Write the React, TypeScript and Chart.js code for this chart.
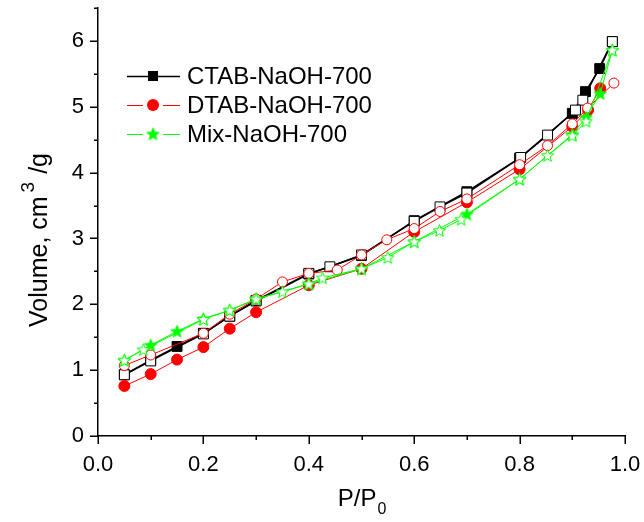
import React, { useEffect, useRef } from 'react';
import { Chart, registerables } from 'chart.js';
Chart.register(...registerables);

// ---- data ----
const ctabAdsP = [0.05, 0.1, 0.15, 0.2, 0.25, 0.3, 0.4, 0.5, 0.6, 0.7, 0.8, 0.9, 0.925, 0.952, 0.976];
const ctabAdsV = [0.93, 1.15, 1.36, 1.56, 1.82, 2.05, 2.46, 2.74, 3.27, 3.71, 4.22, 4.9, 5.23, 5.58, 5.99];
const ctabDesP = [0.976, 0.92, 0.906, 0.853, 0.802, 0.7, 0.649, 0.6, 0.5, 0.44, 0.4, 0.3, 0.25, 0.2, 0.1, 0.05];
const ctabDesV = [5.99, 5.1, 4.95, 4.57, 4.23, 3.69, 3.48, 3.26, 2.75, 2.57, 2.47, 2.06, 1.82, 1.55, 1.14, 0.93];

const dtabAdsP = [0.05, 0.1, 0.15, 0.2, 0.25, 0.3, 0.4, 0.5, 0.6, 0.7, 0.8, 0.9, 0.93, 0.953];
const dtabAdsV = [0.76, 0.94, 1.16, 1.35, 1.63, 1.88, 2.29, 2.54, 3.1, 3.55, 4.05, 4.7, 4.95, 5.28];
const dtabDesP = [0.979, 0.929, 0.9, 0.853, 0.8, 0.7, 0.649, 0.6, 0.548, 0.5, 0.454, 0.4, 0.35, 0.3, 0.25, 0.2, 0.1, 0.05];
const dtabDesV = [5.36, 4.98, 4.74, 4.41, 4.12, 3.6, 3.41, 3.15, 2.98, 2.75, 2.52, 2.47, 2.34, 2.08, 1.85, 1.56, 1.23, 1.07];

const mixAdsP = [0.05, 0.1, 0.15, 0.2, 0.25, 0.3, 0.4, 0.5, 0.6, 0.7, 0.8, 0.9, 0.926, 0.953, 0.976];
const mixAdsV = [1.15, 1.38, 1.59, 1.78, 1.91, 2.08, 2.31, 2.54, 2.95, 3.37, 3.9, 4.58, 4.84, 5.2, 5.86];
const mixDesP = [0.976, 0.926, 0.9, 0.853, 0.8, 0.689, 0.648, 0.6, 0.55, 0.5, 0.426, 0.4, 0.35, 0.3, 0.25, 0.2, 0.086, 0.05];
const mixDesV = [5.86, 4.78, 4.56, 4.26, 3.9, 3.29, 3.12, 2.95, 2.71, 2.54, 2.4, 2.31, 2.19, 2.08, 1.91, 1.77, 1.31, 1.15];

const seriesNames = ['CTAB-NaOH-700', 'DTAB-NaOH-700', 'Mix-NaOH-700'];
const xTickValues = [0, 0.2, 0.4, 0.6, 0.8, 1.0];
const yTickValues = [0, 1, 2, 3, 4, 5, 6];

const BLACK = '#000000';
const RED = '#ff0000';
const GREEN = '#00ff00';
const FONT = '"Liberation Sans", Arial, sans-serif';

function pts(xs: number[], ys: number[]) {
  return xs.map((x, i) => ({ x, y: ys[i] }));
}

function makeStar(fill: boolean, color: string, outer: number, inner: number, lw: number) {
  const size = Math.ceil(outer * 2 + lw * 2 + 2);
  const c = document.createElement('canvas');
  c.width = size;
  c.height = size;
  const ctx = c.getContext('2d')!;
  const cx = size / 2, cy = size / 2 + 0.5;
  ctx.beginPath();
  for (let i = 0; i < 10; i++) {
    const r = i % 2 === 0 ? outer : inner;
    const a = -Math.PI / 2 + (i * Math.PI) / 5;
    const x = cx + r * Math.cos(a), y = cy + r * Math.sin(a);
    if (i === 0) ctx.moveTo(x, y); else ctx.lineTo(x, y);
  }
  ctx.closePath();
  ctx.fillStyle = fill ? color : '#ffffff';
  ctx.fill();
  ctx.strokeStyle = color;
  ctx.lineWidth = lw;
  ctx.stroke();
  return c;
}

const zeroPad = (s: any) => {
  s.paddingTop = 0;
  s.paddingBottom = 0;
  s.paddingLeft = 0;
  s.paddingRight = 0;
};

export default function App() {
  const ref = useRef<HTMLCanvasElement | null>(null);

  useEffect(() => {
    document.body.style.margin = '0';
    const canvas = ref.current!;
    const starFilled = makeStar(true, GREEN, 6.5, 2.8, 1);
    const starOpen = makeStar(false, GREEN, 6.5, 2.8, 1);

    const axisDeco = {
      id: 'axisDeco',
      afterDraw(chart: any) {
        const ctx = chart.ctx as CanvasRenderingContext2D;
        const xs = chart.scales.x, ys = chart.scales.y;
        const area = chart.chartArea;
        ctx.save();
        ctx.strokeStyle = '#000';
        ctx.lineWidth = 1.5;
        // y ticks (outward, left)
        for (let k = 0; k <= 13; k++) {
          const v = k * 0.5;
          const py = Math.round(ys.getPixelForValue(v)) + 0.25;
          const len = k % 2 === 0 ? 8 : 4;
          ctx.beginPath();
          ctx.moveTo(area.left - len, py);
          ctx.lineTo(area.left, py);
          ctx.stroke();
        }
        // x ticks (outward, down)
        for (let k = 0; k <= 10; k++) {
          const v = k / 10;
          const px = Math.round(xs.getPixelForValue(v)) + 0.25;
          const len = k % 2 === 0 ? 8 : 4;
          ctx.beginPath();
          ctx.moveTo(px, area.bottom);
          ctx.lineTo(px, area.bottom + len);
          ctx.stroke();
        }
        // x title: P/P0
        ctx.fillStyle = '#000';
        ctx.textBaseline = 'alphabetic';
        ctx.font = `24px ${FONT}`;
        const main = 'P/P';
        const wMain = ctx.measureText(main).width;
        ctx.font = `16px ${FONT}`;
        const wSub = ctx.measureText('0').width;
        const cx = (area.left + area.right) / 2;
        const startX = cx - (wMain + wSub) / 2;
        const base = 506;
        ctx.font = `24px ${FONT}`;
        ctx.fillText(main, startX, base);
        ctx.font = `16px ${FONT}`;
        ctx.fillText('0', startX + wMain + 1, base + 8);

        // y title: Volume, cm^3/g (rotated)
        ctx.save();
        ctx.translate(47, 240);
        ctx.rotate(-Math.PI / 2);
        ctx.font = `25px ${FONT}`;
        const t1 = 'Volume, cm';
        const t3 = '/g';
        const w1 = ctx.measureText(t1).width;
        const w3 = ctx.measureText(t3).width;
        ctx.font = `19px ${FONT}`;
        const w2 = ctx.measureText('3').width;
        const gapA = 4, gapB = 8;
        const total = w1 + gapA + w2 + gapB + w3;
        let tx = -total / 2;
        ctx.font = `25px ${FONT}`;
        ctx.fillText(t1, tx, 0);
        tx += w1 + gapA;
        ctx.font = `19px ${FONT}`;
        ctx.fillText('3', tx, -13);
        tx += w2 + gapB;
        ctx.font = `25px ${FONT}`;
        ctx.fillText(t3, tx, 0);
        ctx.restore();

        // legend
        const rows = [
          { name: seriesNames[0], color: BLACK, kind: 'sq', lw: 1.5 },
          { name: seriesNames[1], color: RED, kind: 'ci', lw: 1 },
          { name: seriesNames[2], color: GREEN, kind: 'st', lw: 1 },
        ];
        const lx0 = 127, lx1 = 180, mx = 153, textX = 187;
        const rowY = [76, 105, 134];
        rows.forEach((r, i) => {
          const y = rowY[i];
          ctx.strokeStyle = r.color;
          ctx.lineWidth = r.lw;
          ctx.beginPath();
          if (r.kind === 'sq') {
            ctx.moveTo(lx0, y + 0.5);
            ctx.lineTo(lx1, y + 0.5);
          } else {
            ctx.moveTo(lx0, y + 0.5);
            ctx.lineTo(mx - 10, y + 0.5);
            ctx.moveTo(mx + 10, y + 0.5);
            ctx.lineTo(lx1, y + 0.5);
          }
          ctx.stroke();
          ctx.fillStyle = r.color;
          if (r.kind === 'sq') {
            ctx.fillRect(mx - 5, y - 5, 10, 10);
          } else if (r.kind === 'ci') {
            ctx.beginPath();
            ctx.arc(mx, y, 6, 0, Math.PI * 2);
            ctx.fill();
          } else {
            ctx.drawImage(starFilled, mx - starFilled.width / 2, y - starFilled.height / 2);
          }
          ctx.fillStyle = '#000';
          ctx.font = `24px ${FONT}`;
          ctx.textBaseline = 'middle';
          ctx.fillText(r.name, textX, y + 1);
        });
        ctx.restore();
      },
    };

    const mk = (data: any, color: string, style: any, filled: boolean, radius: number, lw: number, order: number) => ({
      data,
      showLine: true,
      borderColor: color,
      borderWidth: lw,
      pointStyle: style,
      pointRadius: radius,
      pointHoverRadius: radius,
      pointBackgroundColor: filled ? color : '#ffffff',
      pointBorderColor: color,
      pointBorderWidth: 1,
      tension: 0,
      order,
    });

    const chart = new Chart(canvas, {
      type: 'scatter',
      data: {
        datasets: [
          mk(pts(ctabAdsP, ctabAdsV), BLACK, 'rect', true, 7, 1.5, 6),
          mk(pts(ctabDesP, ctabDesV), BLACK, 'rect', false, 7, 1.5, 5),
          mk(pts(dtabAdsP, dtabAdsV), RED, 'circle', true, 5.5, 1, 4),
          mk(pts(dtabDesP, dtabDesV), RED, 'circle', false, 5, 1, 3),
          mk(pts(mixAdsP, mixAdsV), GREEN, starFilled, true, 6, 1, 2),
          mk(pts(mixDesP, mixDesV), GREEN, starOpen, false, 6, 1, 1),
        ] as any,
      },
      options: {
        animation: false,
        responsive: true,
        maintainAspectRatio: false,
        layout: { padding: { top: 8, right: 19, left: 0, bottom: 0 } },
        plugins: { legend: { display: false }, tooltip: { enabled: false } },
        scales: {
          x: {
            type: 'linear',
            min: 0,
            max: 1,
            afterFit: (s: any) => { s.height = 86; zeroPad(s); },
            afterBuildTicks: (s: any) => { s.ticks = xTickValues.map((v) => ({ value: v })); },
            grid: { display: true, drawOnChartArea: false, drawTicks: false },
            border: { display: true, color: '#000', width: 1.5 },
            ticks: {
              color: '#000',
              font: { family: FONT, size: 22 },
              padding: 16,
              maxRotation: 0,
              callback: (v: any) => Number(v).toFixed(1),
            },
          },
          y: {
            type: 'linear',
            min: 0,
            max: 6.5,
            afterFit: (s: any) => { s.width = 98; zeroPad(s); },
            afterBuildTicks: (s: any) => { s.ticks = yTickValues.map((v) => ({ value: v })); },
            grid: { display: true, drawOnChartArea: false, drawTicks: false },
            border: { display: true, color: '#000', width: 1.5 },
            ticks: {
              color: '#000',
              font: { family: FONT, size: 22 },
              padding: 14,
              callback: (v: any) => String(v),
            },
          },
        },
      },
      plugins: [axisDeco],
    });
    return () => chart.destroy();
  }, []);

  return (
    <div style={{ width: 644, height: 522, position: 'relative', background: '#fff' }}>
      <canvas ref={ref} />
    </div>
  );
}
